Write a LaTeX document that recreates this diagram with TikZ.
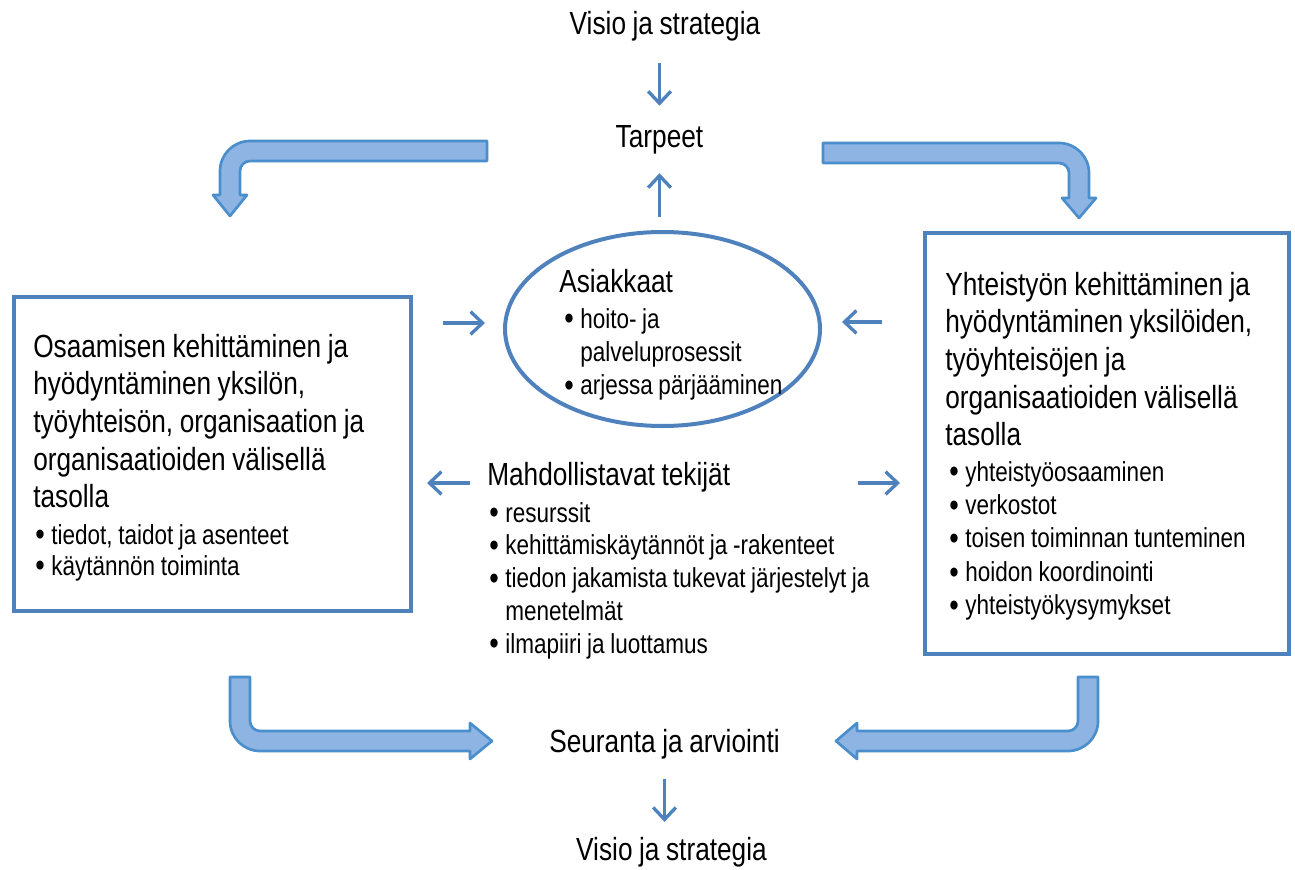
\documentclass[tikz,border=0pt]{standalone}
\usepackage{fontspec}
\setmainfont{Liberation Sans}[FakeStretch=0.82,WordSpace=0.9]
\usetikzlibrary{shapes.geometric,arrows.meta}

\definecolor{boxblue}{RGB}{79,129,189}
\definecolor{bendfill}{RGB}{142,180,227}
\definecolor{benddraw}{RGB}{74,142,204}
\newcommand{\bul}{\makebox[12pt][l]{\raisebox{-1.3pt}{\scalebox{1.2}{\textbullet}}}}

\begin{document}
\begin{tikzpicture}[x=0.75pt,y=-0.75pt,
	steptext/.style={inner sep=0pt, anchor=base, font=\fontsize{24}{28.3}\selectfont},
	headtext/.style={inner sep=0pt, anchor=base west, text width=330pt, align=flush left, font=\fontsize{24}{28.3}\selectfont},
	bullets/.style={inner sep=0pt, anchor=base west, text width=330pt, align=flush left, font=\fontsize{20.6}{#1}\selectfont},
	framebox/.style={draw=boxblue, line width=3pt, inner sep=0pt},
	smallarrow/.style={draw=boxblue, line width=2.5pt, -{Straight Barb[length=9pt,width=17pt]}},
	bentarrow/.style={fill=bendfill, draw=benddraw, line width=2pt, line join=round}]

	\useasboundingbox (0,0) rectangle (1295,870);

	\node[steptext] (visioA) at (665,35) {Visio ja strategia};
	\node[steptext] (tarpeet) at (659.5,147) {Tarpeet};
	\node[steptext] (seuranta) at (664.5,752) {Seuranta ja arviointi};
	\node[steptext] (visioB) at (671.5,860) {Visio ja strategia};

	\node[framebox, ellipse, minimum width=236.25pt, minimum height=145.5pt] (asiakasEllipse) at (662.5,329) {};
	\node[framebox, rectangle, minimum width=297.75pt, minimum height=235.5pt] (osaBox) at (212.5,454) {};
	\node[framebox, rectangle, minimum width=273pt, minimum height=315.75pt] (yhteisBox) at (1107,443.5) {};

	\node[headtext] (asiakasHead) at (559,292) {Asiakkaat};
	\node[bullets=25.1] (asiakasList) at (564,328) {\bul hoito- ja\\
		\hspace*{12pt}palveluprosessit\\
		\bul arjessa pärjääminen};

	\node[headtext] (osaHead) at (33,357) {Osaamisen kehittäminen ja\\
		hyödyntäminen yksilön,\\
		työyhteisön, organisaation ja\\
		organisaatioiden välisellä\\
		tasolla};
	\node[bullets=23.25] (osaList) at (35,544) {\bul tiedot, taidot ja asenteet\\
		\bul käytännön toiminta};

	\node[headtext] (yhteisHead) at (945,295) {Yhteistyön kehittäminen ja\\
		hyödyntäminen yksilöiden,\\
		työyhteisöjen ja\\
		organisaatioiden välisellä\\
		tasolla};
	\node[bullets=25.1] (yhteisList) at (949,481) {\bul yhteistyöosaaminen\\
		\bul verkostot\\
		\bul toisen toiminnan tunteminen\\
		\bul hoidon koordinointi\\
		\bul yhteistyökysymykset};

	\node[steptext, anchor=base west] (mahdHead) at (487,485) {Mahdollistavat tekijät};
	\node[bullets=24.6] (mahdList) at (489,522) {\bul resurssit\\
		\bul kehittämiskäytännöt ja -rakenteet\\
		\bul tiedon jakamista tukevat järjestelyt ja\\
		\hspace*{12pt}menetelmät\\
		\bul ilmapiiri ja luottamus};

	% small arrows
	\draw[smallarrow, shorten <=15.75pt, shorten >=14.25pt] (visioA.south -| tarpeet) -- (tarpeet.north);
	\draw[smallarrow, shorten <=9.75pt, shorten >=14.5pt] (asiakasEllipse.north -| tarpeet) -- (tarpeet.south);
	\draw[smallarrow, shorten <=15pt, shorten >=11pt] (seuranta.south) -- (seuranta.south |- visioB.north);
	\draw[smallarrow, shorten <=22.5pt, shorten >=13.5pt, transform canvas={yshift=4.5pt}] (osaBox.east |- asiakasEllipse.west) -- (asiakasEllipse.west);
	\draw[smallarrow, shorten <=30.75pt, shorten >=15pt, transform canvas={yshift=5.25pt}] (yhteisBox.west |- asiakasEllipse.east) -- (asiakasEllipse.east);
	\draw[smallarrow, shorten <=12.75pt, shorten >=10.5pt, transform canvas={yshift=1.5pt}] (mahdHead.base west) -- (mahdHead.base west -| osaBox.east);
	\draw[smallarrow, shorten <=96pt, shorten >=17.25pt, transform canvas={yshift=1.5pt}] (mahdHead.base east) -- (mahdHead.base east -| yhteisBox.west);

	% bent arrows
	\draw[bentarrow] (487,141) -- (250,141) arc[start angle=270, end angle=180, radius=30] -- (220,195) -- (213,195) -- (230,216) -- (247,195) -- (240,195) -- (240,171) arc[start angle=180, end angle=270, radius=10] -- (487,161) -- cycle;
	\draw[bentarrow] (823,143) -- (1059,143) arc[start angle=270, end angle=360, radius=30] -- (1089,198) -- (1096,198) -- (1079,218) -- (1062,198) -- (1069,198) -- (1069,173) arc[start angle=0, end angle=-90, radius=10] -- (823,163) -- cycle;
	\draw[bentarrow] (230,677) -- (230,721) arc[start angle=180, end angle=90, radius=30] -- (470,751) -- (470,759) -- (492,741) -- (470,723) -- (470,731) -- (260,731) arc[start angle=90, end angle=180, radius=10] -- (250,677) -- cycle;
	\draw[bentarrow] (1098,677) -- (1098,721) arc[start angle=0, end angle=90, radius=30] -- (857,751) -- (857,759) -- (836,741) -- (857,723) -- (857,731) -- (1068,731) arc[start angle=90, end angle=0, radius=10] -- (1078,677) -- cycle;

\end{tikzpicture}
\end{document}
